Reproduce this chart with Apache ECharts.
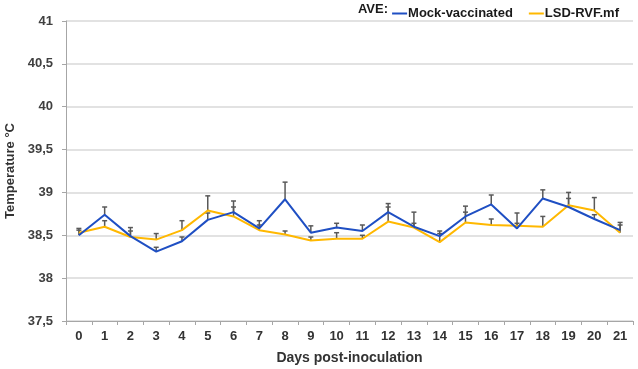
<!DOCTYPE html>
<html lang="en">
<head>
    <meta charset="UTF-8">
    <title>Temperature</title>
    <script src="https://cdn.jsdelivr.net/npm/echarts@6/dist/echarts.min.js"></script>
    <style>
        html, body { margin: 0; padding: 0; background: #fff; }
        #main { width: 638px; height: 369px; }
    </style>
</head>
<body>
<div id="main"></div>
<script>
    var days = ['0', '1', '2', '3', '4', '5', '6', '7', '8', '9', '10', '11', '12', '13', '14', '15', '16', '17', '18', '19', '20', '21'];
    // mean temperature per group
    var mock = [38.50, 38.74, 38.49, 38.31, 38.43, 38.68, 38.77, 38.58, 38.92, 38.53, 38.59, 38.55, 38.77, 38.60, 38.49, 38.72, 38.86, 38.58, 38.93, 38.83, 38.69, 38.56];
    var lsd = [38.53, 38.60, 38.48, 38.45, 38.56, 38.79, 38.72, 38.56, 38.51, 38.44, 38.46, 38.46, 38.66, 38.59, 38.42, 38.65, 38.62, 38.61, 38.60, 38.85, 38.79, 38.53];
    // upper error bars
    var mockSd = [0.08, 0.09, 0.10, 0.05, 0.05, 0.08, 0.13, 0.09, 0.20, 0.08, 0.05, 0.07, 0.10, 0.04, 0.06, 0.12, 0.11, 0.06, 0.10, 0.17, 0.05, 0.09];
    var lsdSd = [0.03, 0.07, 0.07, 0.07, 0.11, 0.17, 0.11, 0.06, 0.04, 0.04, 0.07, 0.04, 0.17, 0.18, 0.10, 0.12, 0.07, 0.15, 0.12, 0.08, 0.15, 0.09];

    var font = 'Liberation Sans, Arial, sans-serif';

    function errData(mean, sd) {
        return mean.map(function (v, i) { return [i, v, v + sd[i]]; });
    }

    function renderErr(params, api) {
        var p0 = api.coord([api.value(0), api.value(1)]);
        var p1 = api.coord([api.value(0), api.value(2)]);
        var st = {stroke: '#595959', lineWidth: 1.5};
        return {
            type: 'group',
            children: [
                {type: 'line', shape: {x1: p0[0], y1: p0[1], x2: p1[0], y2: p1[1]}, style: st},
                {type: 'line', shape: {x1: p1[0] - 2.5, y1: p1[1], x2: p1[0] + 2.5, y2: p1[1]}, style: st}
            ]
        };
    }

    var myChart = echarts.init(document.getElementById('main'));
    var option = {
        animation: false,
        grid: {left: 66, right: 5, top: 21, bottom: 48, outerBoundsMode: 'none', containLabel: false},
        graphic: [{
            type: 'text',
            right: 250, top: 3,
            style: {text: 'AVE:', font: 'bold 13px ' + font, fill: '#1a1a1a'}
        }],
        legend: {
            data: ['Mock-vaccinated', 'LSD-RVF.mf'],
            right: 14, top: 2,
            icon: 'rect',
            itemWidth: 15, itemHeight: 2,
            itemGap: 16,
            textStyle: {fontFamily: font, fontWeight: 'bold', fontSize: 13, color: '#1a1a1a', padding: [0, 0, 0, -4]}
        },
        xAxis: {
            type: 'category',
            data: days,
            name: 'Days post-inoculation',
            nameLocation: 'middle',
            nameGap: 30,
            nameTextStyle: {fontFamily: font, fontWeight: 'bold', fontSize: 14, color: '#333'},
            axisLine: {lineStyle: {color: '#a6a6a6', width: 1}},
            axisTick: {show: true, length: 4, lineStyle: {color: '#a6a6a6'}},
            axisLabel: {fontFamily: font, fontWeight: 'bold', fontSize: 13, color: '#333', margin: 9}
        },
        yAxis: {
            type: 'value',
            min: 37.5, max: 41, interval: 0.5,
            name: 'Temperature °C',
            nameLocation: 'middle',
            nameGap: 43,
            nameRotate: 90,
            nameTextStyle: {fontFamily: font, fontWeight: 'bold', fontSize: 13, color: '#333'},
            axisLine: {show: true, lineStyle: {color: '#a6a6a6', width: 1}},
            axisTick: {show: true, length: 4, lineStyle: {color: '#a6a6a6'}},
            axisLabel: {
                fontFamily: font, fontWeight: 'bold', fontSize: 13, color: '#404040', margin: 13,
                formatter: function (v) { return String(v).replace('.', ','); }
            },
            splitLine: {lineStyle: {color: '#d9d9d9', width: 1.5}}
        },
        series: [
            {
                name: 'mockErr', type: 'custom', renderItem: renderErr,
                data: errData(mock, mockSd), encode: {x: 0, y: [1, 2]}, z: 1, silent: true
            },
            {
                name: 'lsdErr', type: 'custom', renderItem: renderErr,
                data: errData(lsd, lsdSd), encode: {x: 0, y: [1, 2]}, z: 1, silent: true
            },
            {
                name: 'Mock-vaccinated', type: 'line', data: mock,
                symbol: 'none', z: 3,
                lineStyle: {color: '#1f4fc3', width: 2},
                itemStyle: {color: '#1f4fc3'}
            },
            {
                name: 'LSD-RVF.mf', type: 'line', data: lsd,
                symbol: 'none', z: 2,
                lineStyle: {color: '#ffb800', width: 2},
                itemStyle: {color: '#ffb800'}
            }
        ]
    };
    myChart.setOption(option);
</script>
</body>
</html>
